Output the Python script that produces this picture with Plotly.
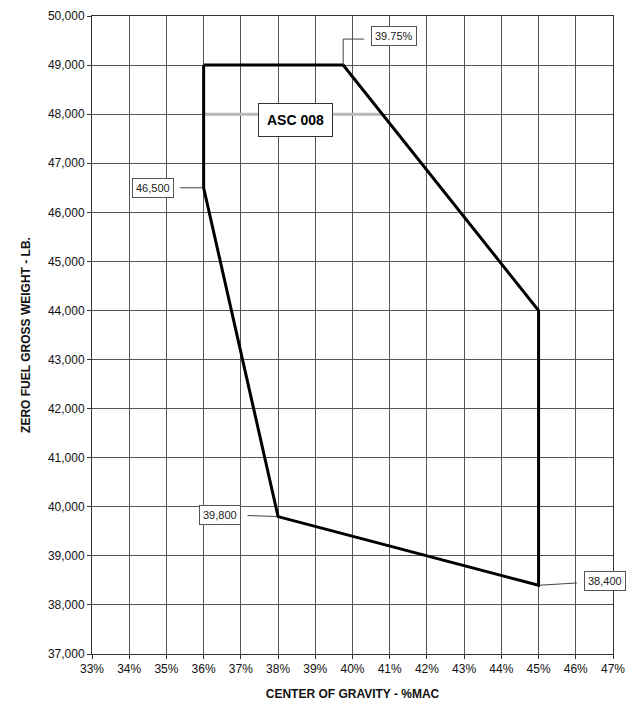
import plotly.graph_objects as go

# Envolvente de centro de gravedad (% MAC) vs peso sin combustible (lb)
cg_pct = [36, 39.75, 45, 45, 38, 36, 36]
peso_lb = [49000, 49000, 44000, 38400, 39800, 46500, 49000]

# Línea ASC 008
asc_cg = [36, 40.8]
asc_peso = [48000, 48000]
asc_label = "ASC 008"

x_ticks = list(range(33, 48))
x_ticktext = [f"{v}%" for v in x_ticks]
y_ticks = list(range(37000, 50001, 1000))

# Etiquetas de puntos: (x, y, texto, desplazamiento x, desplazamiento y)
etiquetas = [
    (36, 46500, "46,500", -51, 0),
    (38, 39800, "39,800", -58, -2),
    (45, 38400, "38,400", 66, -4),
]

FONT = "Liberation Sans, Arial, sans-serif"

fig = go.Figure()

fig.add_trace(go.Scatter(
    x=asc_cg, y=asc_peso, mode="lines",
    line=dict(color="#b8b8b8", width=3),
    hoverinfo="skip", showlegend=False
))

fig.add_trace(go.Scatter(
    x=cg_pct, y=peso_lb, mode="lines",
    line=dict(color="black", width=3),
    hovertemplate="%{x}%<br>%{y:,}<extra></extra>",
    showlegend=False
))

annotations = []
for x, y, txt, dx, dy in etiquetas:
    annotations.append(dict(
        x=x, y=y, xref="x", yref="y", text=txt,
        showarrow=True, arrowhead=0, arrowwidth=1, arrowcolor="#444",
        ax=dx, ay=dy, standoff=1, startstandoff=7,
        font=dict(family=FONT, size=11, color="#222"),
        bgcolor="white", bordercolor="#555", borderwidth=1, borderpad=3
    ))

# 39.75% con conector en codo
annotations.append(dict(
    x=cg_pct[1], y=peso_lb[1], xref="x", yref="y", text="39.75%",
    showarrow=False, xshift=51, yshift=29,
    font=dict(family=FONT, size=11, color="#222"),
    bgcolor="white", bordercolor="#555", borderwidth=1, borderpad=3
))

annotations.append(dict(
    x=38.47, y=asc_peso[0], xref="x", yref="y", text="<b>" + asc_label + "</b>",
    showarrow=False, yshift=-6,
    font=dict(family=FONT, size=14, color="black"),
    bgcolor="white", bordercolor="#333", borderwidth=1, borderpad=8
))

shapes = [dict(
    type="path", xref="x", yref="y",
    xsizemode="pixel", ysizemode="pixel",
    xanchor=cg_pct[1], yanchor=peso_lb[1],
    path="M0,0 L0,26 L21,26",
    line=dict(color="#444", width=1)
)]

fig.update_layout(
    width=632, height=702,
    paper_bgcolor="white", plot_bgcolor="white",
    margin=dict(l=84, r=27, t=8, b=56),
    font=dict(family=FONT, size=12, color="#111"),
    annotations=annotations,
    shapes=shapes,
    xaxis=dict(
        range=[33, 47], tickvals=x_ticks, ticktext=x_ticktext,
        showgrid=True, gridcolor="#555", gridwidth=1,
        showline=True, linecolor="#333", linewidth=1, mirror=True,
        ticks="outside", ticklen=4, tickcolor="#333",
        zeroline=False, automargin=False,
        tickfont=dict(family=FONT, size=12, color="#111"),
        title=dict(text="<b>CENTER OF GRAVITY - %MAC</b>",
                   font=dict(family=FONT, size=12, color="#111"), standoff=14)
    ),
    yaxis=dict(
        range=[37000, 50000], tickvals=y_ticks, tickformat=",d",
        showgrid=True, gridcolor="#555", gridwidth=1,
        showline=True, linecolor="#333", linewidth=1, mirror=True,
        ticks="outside", ticklen=4, tickcolor="#333",
        zeroline=False, automargin=False,
        tickfont=dict(family=FONT, size=12, color="#111"),
        title=dict(text="<b>ZERO FUEL GROSS WEIGHT - LB.</b>",
                   font=dict(family=FONT, size=12, color="#111"), standoff=14)
    ),
)

fig.write_html("out.html")
